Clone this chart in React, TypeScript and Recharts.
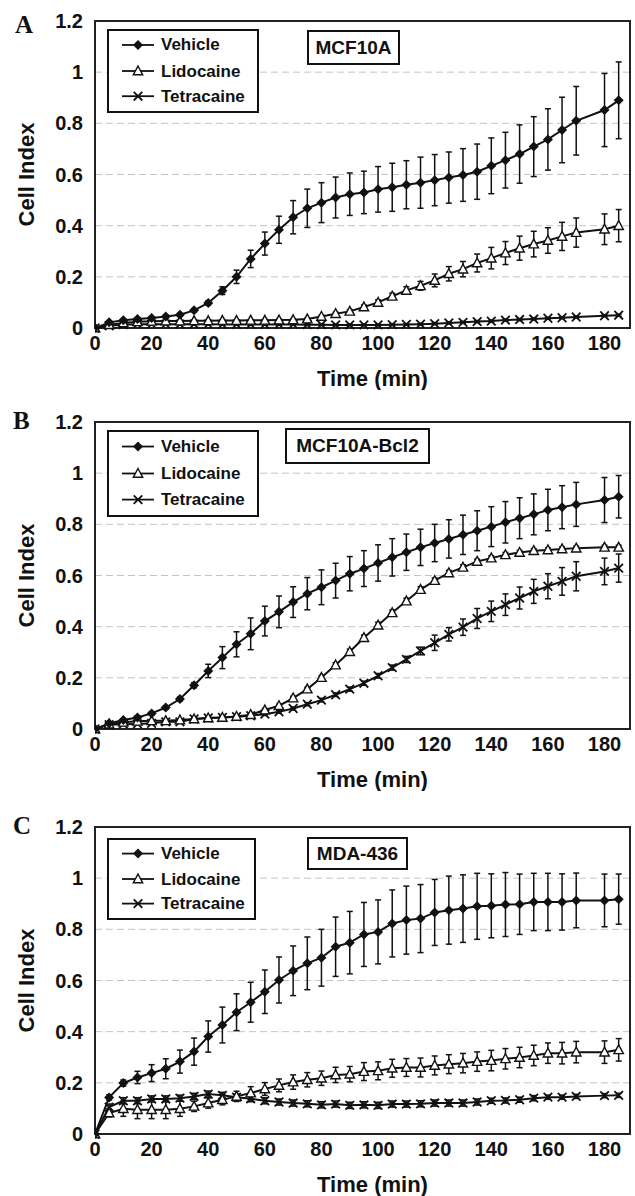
import React from 'react';
import { LineChart, Line, XAxis, YAxis, CartesianGrid, ErrorBar, Legend, ReferenceArea } from 'recharts';

const FONT = '"Liberation Sans", Arial, Helvetica, sans-serif';
const INK = '#111';

const TIMES = [0, 5, 10, 15, 20, 25, 30, 35, 40, 45, 50, 55, 60, 65, 70, 75, 80, 85, 90, 95, 100, 105, 110, 115, 120, 125, 130, 135, 140, 145, 150, 155, 160, 165, 170, 180, 185];
const X_TICKS = [0, 20, 40, 60, 80, 100, 120, 140, 160, 180];
const Y_TICKS = [0, 0.2, 0.4, 0.6, 0.8, 1, 1.2];

// A - MCF10A
const A_VEH = [0, 0.022, 0.03, 0.035, 0.039, 0.045, 0.052, 0.069, 0.098, 0.146, 0.2, 0.27, 0.33, 0.384, 0.433, 0.468, 0.49, 0.51, 0.523, 0.53, 0.542, 0.55, 0.56, 0.568, 0.578, 0.588, 0.598, 0.611, 0.634, 0.656, 0.68, 0.709, 0.737, 0.774, 0.81, 0.852, 0.89];
const A_VEH_ERR = [0, 0.004, 0.004, 0.004, 0.004, 0.005, 0.005, 0.006, 0.008, 0.015, 0.026, 0.034, 0.045, 0.053, 0.065, 0.075, 0.078, 0.08, 0.083, 0.083, 0.089, 0.094, 0.094, 0.1, 0.1, 0.1, 0.103, 0.108, 0.109, 0.109, 0.114, 0.117, 0.12, 0.128, 0.134, 0.143, 0.15];
const A_LID = [0, 0.013, 0.02, 0.024, 0.026, 0.027, 0.027, 0.028, 0.028, 0.029, 0.029, 0.03, 0.03, 0.031, 0.032, 0.035, 0.045, 0.056, 0.065, 0.082, 0.1, 0.124, 0.147, 0.165, 0.186, 0.212, 0.23, 0.254, 0.273, 0.293, 0.312, 0.328, 0.342, 0.358, 0.373, 0.386, 0.4];
const A_LID_ERR = [0, 0.003, 0.003, 0.003, 0.003, 0.003, 0.003, 0.003, 0.003, 0.003, 0.003, 0.003, 0.004, 0.004, 0.004, 0.004, 0.005, 0.006, 0.007, 0.008, 0.01, 0.012, 0.014, 0.017, 0.025, 0.028, 0.03, 0.035, 0.042, 0.045, 0.047, 0.05, 0.05, 0.055, 0.057, 0.06, 0.063];
const A_TET = [0, 0.009, 0.013, 0.015, 0.015, 0.015, 0.015, 0.015, 0.015, 0.014, 0.014, 0.014, 0.014, 0.014, 0.014, 0.013, 0.013, 0.012, 0.012, 0.012, 0.012, 0.013, 0.014, 0.015, 0.017, 0.02, 0.022, 0.025, 0.027, 0.031, 0.033, 0.035, 0.038, 0.04, 0.043, 0.048, 0.05];
const A_TET_ERR = [0, 0.003, 0.003, 0.003, 0.003, 0.003, 0.003, 0.003, 0.003, 0.003, 0.003, 0.003, 0.003, 0.003, 0.003, 0.003, 0.003, 0.003, 0.003, 0.003, 0.003, 0.003, 0.003, 0.003, 0.004, 0.004, 0.004, 0.004, 0.004, 0.004, 0.004, 0.004, 0.004, 0.004, 0.004, 0.004, 0.004];

// B - MCF10A-Bcl2
const B_VEH = [0, 0.022, 0.035, 0.045, 0.061, 0.084, 0.117, 0.171, 0.227, 0.279, 0.331, 0.372, 0.422, 0.458, 0.496, 0.529, 0.554, 0.58, 0.607, 0.627, 0.649, 0.671, 0.691, 0.71, 0.727, 0.743, 0.759, 0.775, 0.791, 0.808, 0.824, 0.839, 0.856, 0.867, 0.878, 0.895, 0.908];
const B_VEH_ERR = [0, 0.004, 0.005, 0.006, 0.006, 0.007, 0.008, 0.01, 0.026, 0.043, 0.049, 0.062, 0.058, 0.062, 0.06, 0.063, 0.068, 0.068, 0.067, 0.07, 0.071, 0.073, 0.071, 0.071, 0.073, 0.075, 0.077, 0.078, 0.078, 0.081, 0.08, 0.08, 0.081, 0.084, 0.086, 0.088, 0.083];
const B_LID = [0, 0.019, 0.026, 0.03, 0.032, 0.032, 0.035, 0.039, 0.043, 0.045, 0.049, 0.056, 0.074, 0.091, 0.121, 0.156, 0.201, 0.25, 0.302, 0.357, 0.406, 0.454, 0.5, 0.545, 0.58, 0.61, 0.632, 0.655, 0.668, 0.681, 0.69, 0.697, 0.7, 0.704, 0.707, 0.71, 0.71];
const B_LID_ERR = [0, 0.004, 0.004, 0.004, 0.004, 0.004, 0.004, 0.004, 0.005, 0.005, 0.005, 0.005, 0.006, 0.006, 0.007, 0.007, 0.008, 0.009, 0.01, 0.01, 0.011, 0.011, 0.011, 0.011, 0.01, 0.01, 0.01, 0.009, 0.009, 0.009, 0.008, 0.008, 0.008, 0.008, 0.008, 0.008, 0.008];
const B_TET = [0, 0.017, 0.019, 0.02, 0.022, 0.028, 0.028, 0.039, 0.043, 0.045, 0.048, 0.052, 0.058, 0.067, 0.08, 0.097, 0.113, 0.134, 0.156, 0.179, 0.208, 0.24, 0.272, 0.305, 0.337, 0.37, 0.398, 0.432, 0.46, 0.486, 0.512, 0.538, 0.558, 0.577, 0.597, 0.616, 0.629];
const B_TET_ERR = [0, 0.003, 0.003, 0.003, 0.003, 0.003, 0.003, 0.004, 0.004, 0.004, 0.004, 0.004, 0.005, 0.005, 0.006, 0.006, 0.007, 0.007, 0.008, 0.008, 0.009, 0.01, 0.012, 0.015, 0.03, 0.026, 0.032, 0.039, 0.04, 0.042, 0.043, 0.047, 0.049, 0.054, 0.057, 0.052, 0.055];

// C - MDA-436
const C_VEH = [0, 0.143, 0.199, 0.221, 0.238, 0.255, 0.283, 0.322, 0.381, 0.426, 0.476, 0.515, 0.556, 0.602, 0.638, 0.667, 0.689, 0.732, 0.748, 0.78, 0.79, 0.823, 0.836, 0.842, 0.866, 0.875, 0.881, 0.89, 0.892, 0.897, 0.898, 0.907, 0.907, 0.907, 0.913, 0.913, 0.918];
const C_VEH_ERR = [0, 0.01, 0.012, 0.024, 0.033, 0.039, 0.045, 0.053, 0.061, 0.07, 0.072, 0.078, 0.085, 0.09, 0.097, 0.103, 0.111, 0.116, 0.122, 0.125, 0.125, 0.131, 0.133, 0.133, 0.129, 0.133, 0.132, 0.129, 0.125, 0.125, 0.118, 0.112, 0.112, 0.11, 0.107, 0.103, 0.098];
const C_LID = [0, 0.082, 0.099, 0.095, 0.095, 0.095, 0.099, 0.108, 0.121, 0.134, 0.147, 0.16, 0.176, 0.19, 0.203, 0.212, 0.218, 0.231, 0.234, 0.244, 0.247, 0.257, 0.26, 0.26, 0.268, 0.273, 0.277, 0.283, 0.287, 0.294, 0.299, 0.307, 0.316, 0.316, 0.32, 0.32, 0.329];
const C_LID_ERR = [0, 0.015, 0.03, 0.035, 0.035, 0.035, 0.03, 0.02, 0.02, 0.02, 0.02, 0.025, 0.025, 0.025, 0.028, 0.028, 0.028, 0.03, 0.03, 0.035, 0.035, 0.035, 0.035, 0.037, 0.037, 0.037, 0.038, 0.038, 0.04, 0.04, 0.04, 0.04, 0.04, 0.042, 0.042, 0.044, 0.044];
const C_TET = [0, 0.105, 0.13, 0.13, 0.137, 0.137, 0.14, 0.147, 0.156, 0.151, 0.144, 0.138, 0.13, 0.125, 0.121, 0.118, 0.114, 0.117, 0.112, 0.114, 0.112, 0.117, 0.117, 0.118, 0.121, 0.121, 0.121, 0.125, 0.13, 0.131, 0.134, 0.14, 0.144, 0.144, 0.147, 0.15, 0.151];
const C_TET_ERR = [0, 0.012, 0.012, 0.012, 0.012, 0.012, 0.012, 0.012, 0.012, 0.012, 0.012, 0.012, 0.012, 0.012, 0.012, 0.012, 0.012, 0.012, 0.012, 0.012, 0.012, 0.012, 0.012, 0.012, 0.012, 0.012, 0.012, 0.012, 0.01, 0.01, 0.01, 0.01, 0.008, 0.008, 0.008, 0.008, 0.008];

type Kind = 'diamond' | 'triangle' | 'cross';

const SERIES: { key: string; name: string; kind: Kind }[] = [
  { key: 'veh', name: 'Vehicle', kind: 'diamond' },
  { key: 'lid', name: 'Lidocaine', kind: 'triangle' },
  { key: 'tet', name: 'Tetracaine', kind: 'cross' },
];

function buildRows(veh: number[], vehErr: number[], lid: number[], lidErr: number[], tet: number[], tetErr: number[]) {
  return TIMES.map((t, i) => ({
    t,
    veh: veh[i], vehErr: vehErr[i],
    lid: lid[i], lidErr: lidErr[i],
    tet: tet[i], tetErr: tetErr[i],
  }));
}

function Marker({ kind, cx, cy }: { kind: Kind; cx?: number; cy?: number }) {
  if (cx == null || cy == null) return null;
  if (kind === 'diamond') {
    return <polygon points={`${cx},${cy - 5} ${cx + 5},${cy} ${cx},${cy + 5} ${cx - 5},${cy}`} fill={INK} />;
  }
  if (kind === 'triangle') {
    return <polygon points={`${cx},${cy - 5} ${cx + 4.7},${cy + 3.8} ${cx - 4.7},${cy + 3.8}`} fill="#fff" stroke={INK} strokeWidth={1.4} />;
  }
  return (
    <g stroke={INK} strokeWidth={1.8}>
      <line x1={cx - 4.3} y1={cy - 4.3} x2={cx + 4.3} y2={cy + 4.3} />
      <line x1={cx - 4.3} y1={cy + 4.3} x2={cx + 4.3} y2={cy - 4.3} />
    </g>
  );
}

function LegendBox({ w, h }: { w: number; h: number }) {
  const rows = [0.19, 0.5, 0.8];
  return (
    <svg width={w} height={h} style={{ display: 'block' }}>
      <rect x={1} y={1} width={w - 2} height={h - 2} fill="#fff" stroke={INK} strokeWidth={2} />
      {SERIES.map((s, i) => {
        const y = h * rows[i];
        return (
          <g key={s.key}>
            <line x1={15} y1={y} x2={47} y2={y} stroke={INK} strokeWidth={1.8} />
            <Marker kind={s.kind} cx={31} cy={y} />
            <text x={54} y={y} dominantBaseline="central" fontFamily={FONT} fontWeight={700} fontSize={17} fill={INK}>
              {s.name}
            </text>
          </g>
        );
      })}
    </svg>
  );
}

const TICK = { fontSize: 20, fontWeight: 700, fill: INK, fontFamily: FONT };

const renderXLabel = (props: any) => {
  const vb = props.viewBox ?? { x: 95, y: 328, width: 535, height: 62 };
  return (
    <text x={vb.x + vb.width / 2 + 10} y={vb.y + 50} textAnchor="middle" dominantBaseline="central" fontFamily={FONT} fontWeight={700} fontSize={22} fill={INK}>
      Time (min)
    </text>
  );
};

const renderYLabel = (props: any) => {
  const vb = props.viewBox ?? { x: 0, y: 21, width: 95, height: 307 };
  const cy = vb.y + vb.height / 2;
  return (
    <text x={26} y={cy} transform={`rotate(-90, 26, ${cy})`} textAnchor="middle" dominantBaseline="central" fontFamily={FONT} fontWeight={700} fontSize={22} fill={INK}>
      Cell Index
    </text>
  );
};

interface Box { left: number; top: number; width: number; height: number }

interface PanelProps {
  top: number;
  letter: string;
  letterTop: number;
  letterLeft: number;
  tag: string;
  tagBox: Box;
  legendBox: Box;
  rows: ReturnType<typeof buildRows>;
}

function Panel({ top, letter, letterTop, letterLeft, tag, tagBox, legendBox, rows }: PanelProps) {
  const drawOrder = [SERIES[2], SERIES[1], SERIES[0]];
  return (
    <div style={{ position: 'absolute', left: 0, top, width: 635, height: 390 }}>
      <LineChart width={635} height={390} data={rows} margin={{ top: 21, right: 5, bottom: 0, left: 0 }}>
        <CartesianGrid vertical={false} stroke="#c4c4c4" strokeDasharray="7 4" />
        <XAxis
          type="number"
          dataKey="t"
          domain={[0, 189]}
          ticks={X_TICKS}
          interval={0}
          allowDataOverflow
          tickLine={false}
          axisLine={false}
          height={62}
          tick={TICK}
          label={renderXLabel}
        />
        <YAxis
          type="number"
          domain={[0, 1.2]}
          ticks={Y_TICKS}
          interval={0}
          width={95}
          tickLine={false}
          axisLine={false}
          tickMargin={6}
          tick={TICK}
          tickFormatter={(v: number) => String(v)}
          label={renderYLabel}
        />
        <ReferenceArea x1={0} x2={189} y1={0} y2={1.2} fill="none" stroke="#222" strokeWidth={2} />
        {drawOrder.map((s) => (
          <Line
            key={s.key}
            type="linear"
            dataKey={s.key}
            name={s.name}
            stroke={INK}
            strokeWidth={2}
            isAnimationActive={false}
            activeDot={false}
            dot={(p: any) => <Marker key={`${s.key}-${p.index}`} kind={s.kind} cx={p.cx} cy={p.cy} />}
          >
            <ErrorBar dataKey={`${s.key}Err`} direction="y" width={3} stroke={INK} strokeWidth={1.5} isAnimationActive={false} />
          </Line>
        ))}
        <Legend
          layout="vertical"
          align="center"
          verticalAlign="middle"
          wrapperStyle={{ left: legendBox.left, top: legendBox.top, width: legendBox.width, height: legendBox.height }}
          content={() => <LegendBox w={legendBox.width} h={legendBox.height} />}
        />
      </LineChart>
      <div
        style={{
          position: 'absolute', left: letterLeft, top: letterTop,
          fontFamily: '"Liberation Serif", "Times New Roman", serif', fontWeight: 700, fontSize: 25, lineHeight: '25px', color: INK,
        }}
      >
        {letter}
      </div>
      <div
        style={{
          position: 'absolute', left: tagBox.left, top: tagBox.top, width: tagBox.width, height: tagBox.height,
          boxSizing: 'border-box', border: `2px solid ${INK}`, background: '#fff',
          display: 'flex', alignItems: 'center', justifyContent: 'center',
          fontFamily: FONT, fontWeight: 700, fontSize: 19, color: INK,
        }}
      >
        {tag}
      </div>
    </div>
  );
}

export default function App() {
  return (
    <div style={{ position: 'absolute', left: 0, top: 0, width: 635, height: 1196, background: '#fff' }}>
      <Panel
        top={0}
        letter="A"
        letterTop={12}
        letterLeft={15}
        tag="MCF10A"
        tagBox={{ left: 307, top: 30, width: 93, height: 35 }}
        legendBox={{ left: 107, top: 29, width: 152, height: 84 }}
        rows={buildRows(A_VEH, A_VEH_ERR, A_LID, A_LID_ERR, A_TET, A_TET_ERR)}
      />
      <Panel
        top={401}
        letter="B"
        letterTop={7}
        letterLeft={13}
        tag="MCF10A-Bcl2"
        tagBox={{ left: 285, top: 27, width: 145, height: 36 }}
        legendBox={{ left: 107, top: 29, width: 152, height: 87 }}
        rows={buildRows(B_VEH, B_VEH_ERR, B_LID, B_LID_ERR, B_TET, B_TET_ERR)}
      />
      <Panel
        top={806}
        letter="C"
        letterTop={7}
        letterLeft={13}
        tag="MDA-436"
        tagBox={{ left: 307, top: 31, width: 101, height: 33 }}
        legendBox={{ left: 107, top: 32, width: 149, height: 82 }}
        rows={buildRows(C_VEH, C_VEH_ERR, C_LID, C_LID_ERR, C_TET, C_TET_ERR)}
      />
    </div>
  );
}
